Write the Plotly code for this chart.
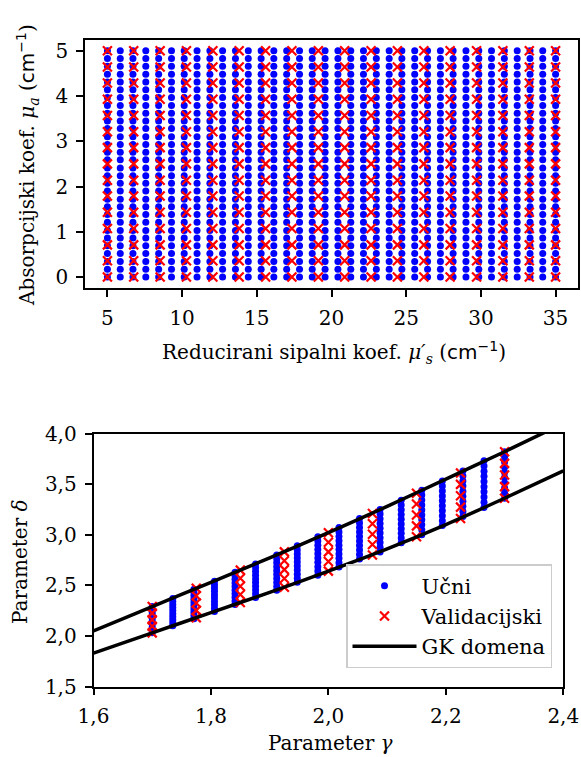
import numpy as np
import plotly.graph_objects as go

# ---------------- data: top panel (optical properties grid) ----------------
mu_s_train = [5.00, 5.86, 6.71, 7.57, 8.43, 9.29, 10.14, 11.00, 11.86, 12.71, 13.57, 14.43,
              15.29, 16.14, 17.00, 17.86, 18.71, 19.57, 20.43, 21.29, 22.14, 23.00, 23.86, 24.71,
              25.57, 26.43, 27.29, 28.14, 29.00, 29.86, 30.71, 31.57, 32.43, 33.29, 34.14, 35.00]
mu_a_train = [0.00, 0.17, 0.34, 0.52, 0.69, 0.86, 1.03, 1.21, 1.38, 1.55, 1.72, 1.90, 2.07, 2.24, 2.41,
              2.59, 2.76, 2.93, 3.10, 3.28, 3.45, 3.62, 3.79, 3.97, 4.14, 4.31, 4.48, 4.66, 4.83, 5.00]
mu_s_val = [5.00, 6.76, 8.53, 10.29, 12.06, 13.82, 15.59, 17.35, 19.12, 20.88, 22.65, 24.41,
            26.18, 27.94, 29.71, 31.47, 33.24, 35.00]
mu_a_val = [0.00, 0.36, 0.71, 1.07, 1.43, 1.79, 2.14, 2.50, 2.86, 3.21, 3.57, 3.93, 4.29, 4.64, 5.00]

# ---------------- data: bottom panel (phase function parameters) ----------------
gamma_train = [1.700, 1.735, 1.771, 1.806, 1.841, 1.876, 1.912, 1.947, 1.982,
               2.018, 2.053, 2.088, 2.124, 2.159, 2.194, 2.229, 2.265, 2.300]
delta_train_lo = [2.03, 2.10, 2.17, 2.24, 2.31, 2.38, 2.45, 2.53, 2.60,
                  2.68, 2.76, 2.83, 2.92, 3.00, 3.09, 3.18, 3.27, 3.36]
delta_train_hi = [2.29, 2.37, 2.46, 2.54, 2.63, 2.71, 2.80, 2.89, 2.98,
                  3.07, 3.16, 3.25, 3.34, 3.44, 3.53, 3.63, 3.73, 3.82]
n_delta_train = 10

gamma_val = [1.700, 1.775, 1.850, 1.925, 2.000, 2.075, 2.150, 2.225, 2.300]
delta_val_lo = [2.03, 2.18, 2.33, 2.48, 2.64, 2.80, 2.98, 3.16, 3.36]
delta_val_hi = [2.29, 2.47, 2.65, 2.83, 3.02, 3.21, 3.41, 3.61, 3.82]
n_delta_val = 5

gk_gamma = [1.6, 1.7, 1.8, 1.9, 2.0, 2.1, 2.2, 2.3, 2.4]
gk_upper = [2.05, 2.29, 2.53, 2.77, 3.02, 3.28, 3.55, 3.82, 4.10]
gk_lower = [1.83, 2.03, 2.23, 2.43, 2.64, 2.86, 3.10, 3.36, 3.63]

x_ticks_top = [5, 10, 15, 20, 25, 30, 35]
y_ticks_top = [0, 1, 2, 3, 4, 5]
x_ticks_bot = [1.6, 1.8, 2.0, 2.2, 2.4]
x_ticklabels_bot = ["1,6", "1,8", "2,0", "2,2", "2,4"]
y_ticks_bot = [1.5, 2.0, 2.5, 3.0, 3.5, 4.0]
y_ticklabels_bot = ["1,5", "2,0", "2,5", "3,0", "3,5", "4,0"]

# ---------------- build grids ----------------
tx, ty = np.meshgrid(mu_s_train, mu_a_train)
vx, vy = np.meshgrid(mu_s_val, mu_a_val)

bg_x, bg_y = [], []
for g, lo, hi in zip(gamma_train, delta_train_lo, delta_train_hi):
    d = np.linspace(lo, hi, n_delta_train)
    bg_x += [g] * len(d)
    bg_y += list(d)
vg_x, vg_y = [], []
for g, lo, hi in zip(gamma_val, delta_val_lo, delta_val_hi):
    d = np.linspace(lo, hi, n_delta_val)
    vg_x += [g] * len(d)
    vg_y += list(d)

W, H = 581, 757
FONT = "DejaVu Serif"
FS = 20

fig = go.Figure()

dot = dict(color="#0000ff", size=7, line=dict(width=0))
cross = dict(color="#ff0000", size=9, symbol="x-thin", line=dict(color="#ff0000", width=2.2))

fig.add_trace(go.Scatter(x=tx.ravel(), y=ty.ravel(), mode="markers", marker=dot,
                         showlegend=False, xaxis="x", yaxis="y"))
fig.add_trace(go.Scatter(x=vx.ravel(), y=vy.ravel(), mode="markers", marker=cross,
                         showlegend=False, xaxis="x", yaxis="y"))

fig.add_trace(go.Scatter(x=bg_x, y=bg_y, mode="markers", marker=dot, name="Učni",
                         xaxis="x2", yaxis="y2"))
fig.add_trace(go.Scatter(x=vg_x, y=vg_y, mode="markers", marker=cross, name="Validacijski",
                         xaxis="x2", yaxis="y2"))
fig.add_trace(go.Scatter(x=gk_gamma, y=gk_upper, mode="lines", name="GK domena",
                         line=dict(color="black", width=3.5, shape="spline", smoothing=0.6),
                         xaxis="x2", yaxis="y2"))
fig.add_trace(go.Scatter(x=gk_gamma, y=gk_lower, mode="lines", showlegend=False,
                         line=dict(color="black", width=3.5, shape="spline", smoothing=0.6),
                         xaxis="x2", yaxis="y2"))

def px_x(p):
    return p / W

def px_y(p):
    return 1 - p / H

axis_common = dict(showline=True, linecolor="black", linewidth=1.6, mirror=True,
                   ticks="outside", ticklen=7, tickwidth=1.6, tickcolor="black",
                   showgrid=False, zeroline=False, automargin=False,
                   tickfont=dict(family=FONT, size=FS, color="black"),
                   ticklabelstandoff=4)

fig.update_layout(
    template="none",
    width=W, height=H,
    margin=dict(l=0, r=0, t=0, b=0, pad=0),
    paper_bgcolor="white", plot_bgcolor="white",
    font=dict(family=FONT, size=FS, color="black"),
    xaxis=dict(domain=[px_x(85), px_x(578)], range=[3.5, 36.5], anchor="y",
               tickvals=x_ticks_top, **axis_common),
    yaxis=dict(domain=[px_y(288.3), px_y(39.5)], range=[-0.25, 5.25], anchor="x",
               tickvals=y_ticks_top, **axis_common),
    xaxis2=dict(domain=[px_x(93.5), px_x(563.3)], range=[1.6, 2.4], anchor="y2",
                tickvals=x_ticks_bot, ticktext=x_ticklabels_bot, **axis_common),
    yaxis2=dict(domain=[px_y(686.5), px_y(433.5)], range=[1.5, 4.0], anchor="x2",
                tickvals=y_ticks_bot, ticktext=y_ticklabels_bot, **axis_common),
    legend=dict(x=px_x(552), xanchor="right", y=px_y(668), yanchor="bottom",
                bgcolor="rgba(255,255,255,0.8)", bordercolor="#cccccc", borderwidth=1.5,
                font=dict(family=FONT, size=21, color="black"),
                tracegroupgap=0, itemsizing="trace", itemwidth=64),
)

sans = "font-family:'DejaVu Sans'"
annos = [
    dict(x=px_x(334), y=px_y(352),
         text=f"Reducirani sipalni koef. <i>μ′</i><sub><i>s</i></sub> (<span style=\"{sans}\">cm<sup>−1</sup></span>)",
         textangle=0),
    dict(x=px_x(28), y=px_y(165),
         text=f"Absorpcijski koef. <i>μ</i><sub><i>a</i></sub> (<span style=\"{sans}\">cm<sup>−1</sup></span>)",
         textangle=-90),
    dict(x=px_x(330), y=px_y(743), text="Parameter <i>γ</i>", textangle=0),
    dict(x=px_x(20), y=px_y(562), text="Parameter <i>δ</i>", textangle=-90),
]
for a in annos:
    fig.add_annotation(xref="paper", yref="paper", showarrow=False,
                       xanchor="center", yanchor="middle",
                       font=dict(family=FONT, size=FS, color="black"), **a)

# remove the default page margin so the figure fills the window exactly
fig.write_html("out.html",
               config={"displayModeBar": False},
               post_script="document.body.style.margin='0';document.body.style.overflow='hidden';")
